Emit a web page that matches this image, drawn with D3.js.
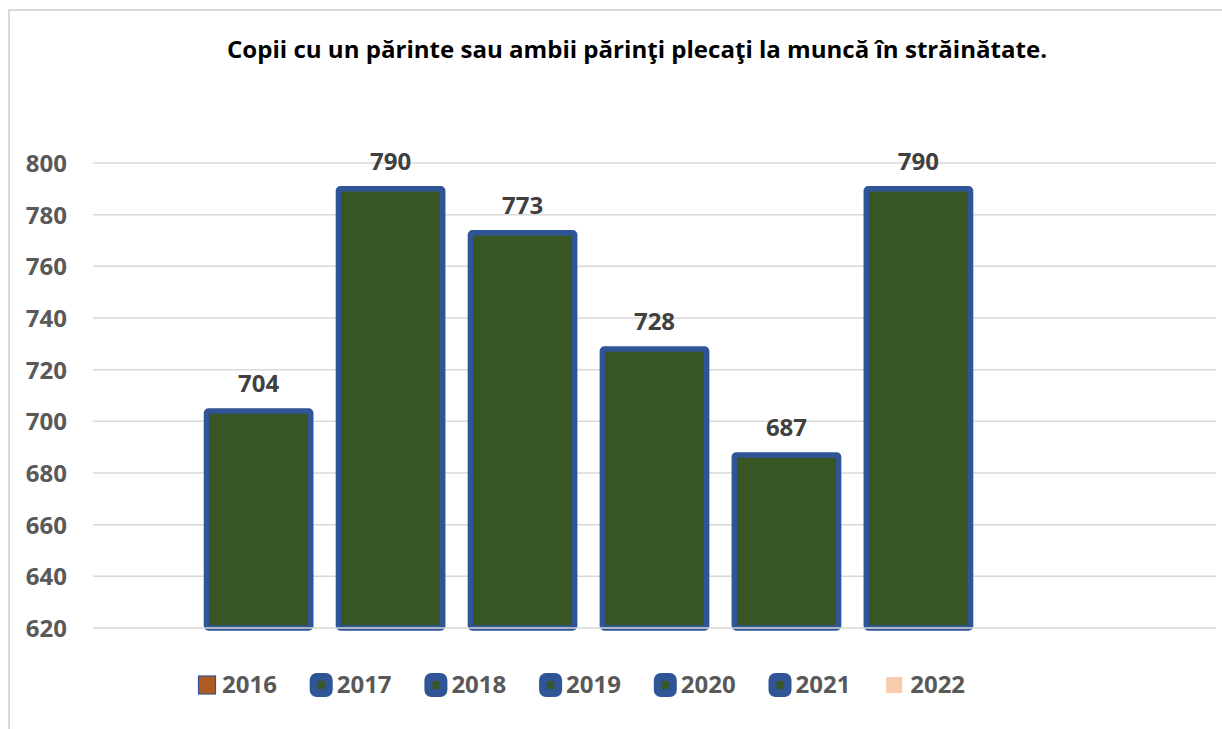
<!DOCTYPE html>
<html>
<head>
<meta charset="utf-8">
<script src="https://cdn.jsdelivr.net/npm/d3@7"></script>
<style>
  html, body { margin: 0; padding: 0; background: #ffffff; }
  svg { display: block; }
</style>
</head>
<body>
<svg id="chart" width="1222" height="729"></svg>
<script>
const titleText = "Copii cu un părinte sau ambii părinţi plecaţi la muncă în străinătate.";
const years = ["2016", "2017", "2018", "2019", "2020", "2021", "2022"];
const values = [704, 790, 773, 728, 687, 790, null];
const yTicks = [620, 640, 660, 680, 700, 720, 740, 760, 780, 800];
const legendStyle = ["brown", "bar", "bar", "bar", "bar", "bar", "pink"];

const W = 1222, H = 729;
const svg = d3.select("#chart");
const FONT = "'Open Sans', 'Noto Sans', sans-serif";
const BLUE = "#2f5597", GREEN = "#375623";

// chart border
svg.append("rect")
  .attr("x", 9).attr("y", 10)
  .attr("width", W + 20).attr("height", H + 20)
  .attr("fill", "#ffffff")
  .attr("stroke", "#d9d9d9").attr("stroke-width", 2);

// title
svg.append("text")
  .attr("x", 637).attr("y", 58)
  .attr("text-anchor", "middle")
  .attr("font-family", FONT)
  .attr("font-weight", "bold")
  .attr("font-size", 24)
  .attr("fill", "#000000")
  .attr("textLength", 820)
  .attr("lengthAdjust", "spacingAndGlyphs")
  .text(titleText);

const plotLeft = 93, plotRight = 1216;
const y = d3.scaleLinear().domain([620, 800]).range([628, 163]);
const x = d3.scaleBand().domain(years)
  .range([plotLeft, plotRight])
  .paddingInner(0.21)
  .paddingOuter(0.86);

// gridlines
svg.append("g").selectAll("line.grid")
  .data(yTicks.filter(d => d !== 620))
  .join("line")
  .attr("x1", plotLeft).attr("x2", plotRight)
  .attr("y1", d => y(d)).attr("y2", d => y(d))
  .attr("stroke", "#d9d9d9").attr("stroke-width", 1.5);

// y axis labels
const yAxis = d3.axisLeft(y).tickValues(yTicks).tickSize(0).tickPadding(0);
const yg = svg.append("g").attr("transform", "translate(67,0)").call(yAxis);
yg.select(".domain").remove();
yg.selectAll("text")
  .attr("font-family", FONT)
  .attr("font-weight", "bold")
  .attr("font-size", 24)
  .attr("fill", "#595959")
  .attr("dy", "0.35em");

// bars
const barData = years.map((yr, i) => ({ yr, v: values[i] })).filter(d => d.v != null);
svg.append("g").selectAll("rect.bar")
  .data(barData)
  .join("rect")
  .attr("x", d => x(d.yr))
  .attr("y", d => y(d.v))
  .attr("width", x.bandwidth())
  .attr("height", d => y(620) - y(d.v))
  .attr("rx", 2)
  .attr("fill", GREEN)
  .attr("stroke", BLUE)
  .attr("stroke-width", 5.5);

// axis baseline
svg.append("line")
  .attr("x1", plotLeft).attr("x2", plotRight)
  .attr("y1", y(620)).attr("y2", y(620))
  .attr("stroke", "#d9d9d9").attr("stroke-width", 1.5);

// data labels
svg.append("g").selectAll("text.lbl")
  .data(barData)
  .join("text")
  .attr("x", d => x(d.yr) + x.bandwidth() / 2)
  .attr("y", d => y(d.v) - 19)
  .attr("text-anchor", "middle")
  .attr("font-family", FONT)
  .attr("font-weight", "bold")
  .attr("font-size", 24)
  .attr("fill", "#404040")
  .text(d => d.v);

// legend
const legStep = 114.7, legX0 = 198, legY = 685;
const lg = svg.append("g");
years.forEach((yr, i) => {
  const mx = legX0 + i * legStep;
  const g = lg.append("g");
  if (legendStyle[i] === "brown") {
    g.append("rect")
      .attr("x", mx + 0.5).attr("y", legY - 9)
      .attr("width", 17).attr("height", 18)
      .attr("fill", "#ae5a21")
      .attr("stroke", BLUE).attr("stroke-width", 1.2);
  } else if (legendStyle[i] === "bar") {
    g.append("rect")
      .attr("x", mx + 1).attr("y", legY - 8)
      .attr("width", 15).attr("height", 16)
      .attr("rx", 3)
      .attr("fill", GREEN)
      .attr("stroke", BLUE).attr("stroke-width", 8);
  } else {
    g.append("rect")
      .attr("x", mx).attr("y", legY - 8)
      .attr("width", 16).attr("height", 16)
      .attr("fill", "#f8cbad");
  }
  g.append("text")
    .attr("x", mx + 24).attr("y", legY)
    .attr("dy", "0.35em")
    .attr("font-family", FONT)
    .attr("font-weight", "bold")
    .attr("font-size", 24)
    .attr("fill", "#595959")
    .text(yr);
});
</script>
</body>
</html>
